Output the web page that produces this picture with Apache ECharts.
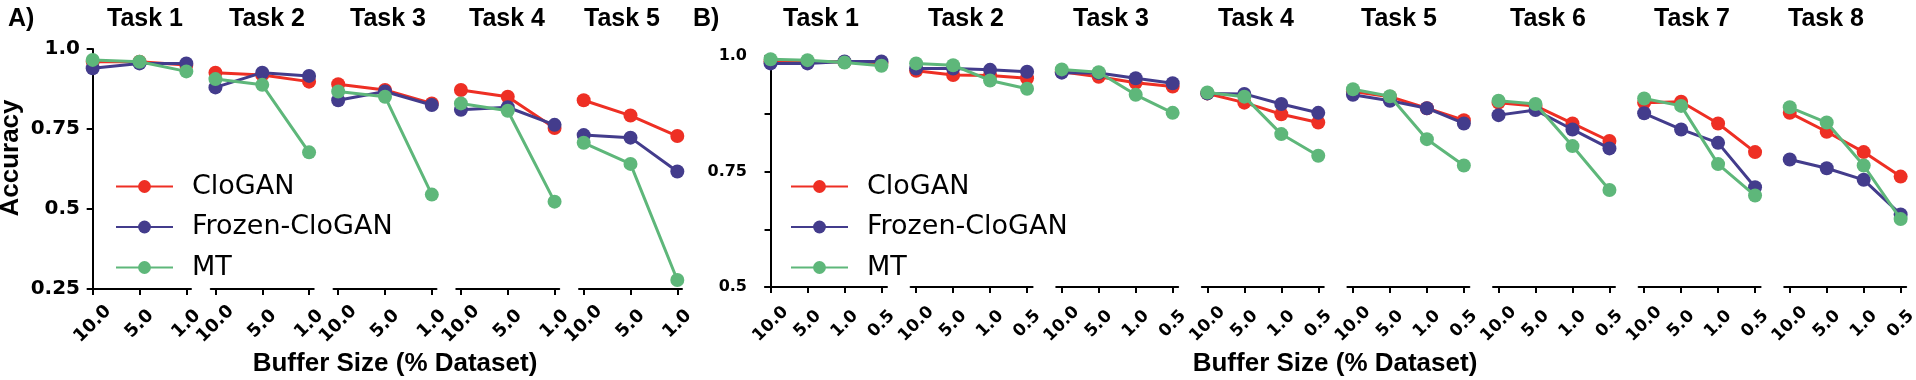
<!DOCTYPE html>
<html>
<head>
<meta charset="utf-8">
<title>Accuracy vs buffer size</title>
<script src="https://cdn.jsdelivr.net/npm/echarts@6/dist/echarts.min.js"></script>
<style>
  html, body { margin: 0; padding: 0; background: #fff; }
  #chart { width: 1916px; height: 380px; }
</style>
</head>
<body>
<div id="chart"></div>
<script>
// tick labels
const bufferA = ['10.0', '5.0', '1.0']
const bufferB = ['10.0', '5.0', '1.0', '0.5']
const tasksA = ['Task 1', 'Task 2', 'Task 3', 'Task 4', 'Task 5']
const tasksB = ['Task 1', 'Task 2', 'Task 3', 'Task 4', 'Task 5', 'Task 6', 'Task 7', 'Task 8']
const methods = ['CloGAN', 'Frozen-CloGAN', 'MT']

// panel A: accuracy per task, one row per task
const cloganA = [
  [0.960, 0.960, 0.950],
  [0.926, 0.919, 0.898],
  [0.890, 0.872, 0.830],
  [0.872, 0.851, 0.753],
  [0.840, 0.792, 0.728]
]
const frozenA = [
  [0.940, 0.955, 0.955],
  [0.880, 0.926, 0.916],
  [0.840, 0.867, 0.825],
  [0.810, 0.818, 0.763],
  [0.731, 0.723, 0.617]
]
const mtA = [
  [0.966, 0.960, 0.930],
  [0.906, 0.888, 0.677],
  [0.867, 0.851, 0.545],
  [0.830, 0.807, 0.523],
  [0.707, 0.641, 0.278]
]

// panel B
const cloganB = [
  [0.988, 0.988, 0.987, 0.985],
  [0.968, 0.959, 0.958, 0.952],
  [0.966, 0.955, 0.942, 0.934],
  [0.919, 0.899, 0.874, 0.856],
  [0.923, 0.912, 0.887, 0.861],
  [0.899, 0.892, 0.854, 0.816],
  [0.899, 0.901, 0.854, 0.792],
  [0.877, 0.836, 0.792, 0.739]
]
const frozenB = [
  [0.984, 0.984, 0.988, 0.988],
  [0.973, 0.973, 0.970, 0.966],
  [0.964, 0.963, 0.952, 0.941],
  [0.919, 0.918, 0.896, 0.877],
  [0.916, 0.903, 0.887, 0.854],
  [0.872, 0.883, 0.841, 0.800],
  [0.876, 0.841, 0.812, 0.716],
  [0.776, 0.757, 0.732, 0.657]
]
const mtB = [
  [0.993, 0.991, 0.986, 0.979],
  [0.984, 0.980, 0.947, 0.929],
  [0.971, 0.965, 0.916, 0.877],
  [0.921, 0.912, 0.831, 0.784],
  [0.928, 0.913, 0.820, 0.763],
  [0.903, 0.896, 0.805, 0.710],
  [0.908, 0.892, 0.766, 0.698],
  [0.889, 0.856, 0.763, 0.647]
]

const colors = ['#ee2f24', '#433c8c', '#5eb77a']
const tickFont = 'DejaVu Sans'
const titleFont = 'Liberation Sans'

const grids = []
const xAxes = []
const yAxes = []
const series = []

function addPanel(opt) {
  opt.tasks.forEach((task, t) => {
    const gi = grids.length
    grids.push({
      left: opt.left + opt.step * t, top: opt.top, width: opt.width, height: opt.height,
      outerBoundsMode: 'none', containLabel: false
    })
    const n = opt.ticks.length
    const idx = opt.ticks.map((_, i) => i)
    xAxes.push({
      type: 'value', gridIndex: gi,
      min: -opt.pad, max: n - 1 + opt.pad,
      axisLine: { show: true, onZero: false, lineStyle: { color: '#000', width: 2 } },
      axisTick: { show: true, customValues: idx, length: 6, lineStyle: { color: '#000', width: 2 } },
      axisLabel: {
        customValues: idx, rotate: 45, align: 'center', verticalAlign: 'middle', margin: opt.xMargin,
        formatter: v => opt.ticks[Math.round(v)] || '',
        fontFamily: tickFont, fontWeight: 'bold', fontSize: opt.xFont, color: '#000'
      },
      splitLine: { show: false }
    })
    yAxes.push({
      type: 'value', gridIndex: gi, min: opt.ymin, max: 1, interval: opt.yInterval,
      show: t === 0,
      axisLine: { show: true, lineStyle: { color: '#000', width: 2 } },
      axisTick: { show: true, length: 6, lineStyle: { color: '#000', width: 2 } },
      axisLabel: {
        margin: opt.yMargin, formatter: opt.yFormat,
        fontFamily: tickFont, fontWeight: 'bold', fontSize: opt.yFont, color: '#000'
      },
      splitLine: { show: false }
    })
    opt.data.forEach((rows, m) => {
      series.push({
        name: methods[m], type: 'line', xAxisIndex: gi, yAxisIndex: gi,
        data: rows[t].map((v, i) => [i, v]),
        symbol: 'circle', symbolSize: 14,
        lineStyle: { color: colors[m], width: 3 },
        itemStyle: { color: colors[m] },
        z: 2 + m
      })
    })
  })
}

addPanel({
  tasks: tasksA, ticks: bufferA, data: [cloganA, frozenA, mtA],
  left: 88, step: 122.75, width: 103, top: 49, height: 240, pad: 0.1,
  ymin: 0.25, yInterval: 0.25, yFont: 20, yMargin: 8, xFont: 18, xMargin: 35,
  yFormat: v => ({ 1: '1.0', 0.75: '0.75', 0.5: '0.5', 0.25: '0.25' })[v] || ''
})
addPanel({
  tasks: tasksB, ticks: bufferB, data: [cloganB, frozenB, mtB],
  left: 765, step: 145.6, width: 122, top: 56, height: 231, pad: 0.15,
  ymin: 0.5, yInterval: 0.125, yFont: 16, yMargin: 18, xFont: 17, xMargin: 37,
  yFormat: v => ({ 1: '1.0', 0.75: '0.75', 0.5: '0.5' })[v] || ''
})

const titleCentersA = [145, 267, 388, 507, 622]
const titleCentersB = [821, 966, 1111, 1256, 1399, 1548, 1692, 1826]
const bold25 = 'bold 25px "' + titleFont + '"'
const bold26 = 'bold 26px "' + titleFont + '"'
const graphics = []
tasksA.forEach((t, i) => graphics.push({ type: 'text', x: titleCentersA[i], y: 19, style: { text: t, font: bold25, fill: '#000', align: 'center', verticalAlign: 'middle' } }))
tasksB.forEach((t, i) => graphics.push({ type: 'text', x: titleCentersB[i], y: 19, style: { text: t, font: bold25, fill: '#000', align: 'center', verticalAlign: 'middle' } }))
graphics.push({ type: 'text', x: 8, y: 19, style: { text: 'A)', font: bold25, fill: '#000', align: 'left', verticalAlign: 'middle' } })
graphics.push({ type: 'text', x: 693, y: 19, style: { text: 'B)', font: bold25, fill: '#000', align: 'left', verticalAlign: 'middle' } })
graphics.push({ type: 'text', x: 11, y: 158, rotation: Math.PI / 2, style: { text: 'Accuracy', font: bold26, fill: '#000', align: 'center', verticalAlign: 'middle' } })
graphics.push({ type: 'text', x: 395, y: 364, style: { text: 'Buffer Size (% Dataset)', font: bold26, fill: '#000', align: 'center', verticalAlign: 'middle' } })
graphics.push({ type: 'text', x: 1335, y: 364, style: { text: 'Buffer Size (% Dataset)', font: bold26, fill: '#000', align: 'center', verticalAlign: 'middle' } })

const legendBase = {
  data: methods, orient: 'vertical', top: 173, padding: 0,
  itemWidth: 57, itemHeight: 16, itemGap: 13.5, selectedMode: false,
  textStyle: { fontFamily: tickFont, fontSize: 27, lineHeight: 26, color: '#000', padding: [0, 0, 0, 14] }
}

const chart = echarts.init(document.getElementById('chart'))
chart.setOption({
  animation: false,
  backgroundColor: '#fff',
  grid: grids,
  xAxis: xAxes,
  yAxis: yAxes,
  legend: [
    Object.assign({}, legendBase, { left: 115 }),
    Object.assign({}, legendBase, { left: 790 })
  ],
  graphic: graphics,
  series: series
})
</script>
</body>
</html>
